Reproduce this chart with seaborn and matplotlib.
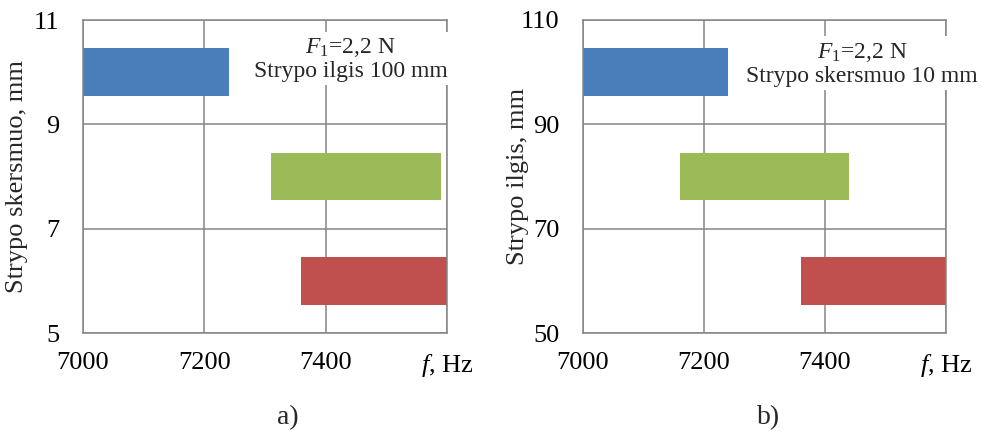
import numpy as np
import pandas as pd
import matplotlib
matplotlib.use('Agg')
import matplotlib.pyplot as plt
import seaborn as sns

# ---- data ----
# Panel a): bar diameter (mm) vs frequency range (Hz)
a_diam = [6, 8, 10]
a_start = [7360, 7310, 7000]
a_end = [7600, 7590, 7240]
# Panel b): bar length (mm) vs frequency range (Hz)
b_len = [60, 80, 100]
b_start = [7360, 7160, 7000]
b_end = [7600, 7440, 7240]

bar_colors = ['#C0504D', '#9BBB59', '#4A7EBB']  # for y ascending
x_ticks = [7000, 7200, 7400, 7600]
x_ticklabels = ['7000', '7200', '7400', r'$f$, Hz']
a_yticks = [5, 7, 9, 11]
b_yticks = [50, 70, 90, 110]
a_ylabel = 'Strypo skersmuo, mm'
b_ylabel = 'Strypo ilgis, mm'
a_note = '$F_{\\mathit{1}}$=2,2 N\nStrypo ilgis 100 mm'
b_note = '$F_{\\mathit{1}}$=2,2 N\nStrypo skersmuo 10 mm'

sns.set_theme(style='white')
plt.rcParams['font.family'] = ['Liberation Serif', 'DejaVu Serif']
plt.rcParams['mathtext.fontset'] = 'custom'
plt.rcParams['mathtext.rm'] = 'Liberation Serif'
plt.rcParams['mathtext.it'] = 'Liberation Serif:italic'

GRID = '#858585'

fig = plt.figure(figsize=(9.86, 4.33), dpi=100)
ax1 = fig.add_axes([83/986, 100/433, 364/986, 313/433])
ax2 = fig.add_axes([583/986, 100/433, 363/986, 313/433])


def panel(ax, ys, starts, ends, yticks, ylabel, note, note_xy):
    df = pd.DataFrame({'y': ys, 'start': starts,
                       'dur': np.array(ends) - np.array(starts)})
    df = df.sort_values('y').reset_index(drop=True)
    sns.barplot(data=df, x='dur', y='y', orient='y', native_scale=True,
                width=0.46, errorbar=None, left=df['start'].to_numpy(),
                color=bar_colors[0], saturation=1, linewidth=0, ax=ax)
    for p, c in zip(ax.patches, bar_colors):
        p.set_facecolor(c)
        p.set_edgecolor(c)
    ax.set_xlim(x_ticks[0], x_ticks[-1])
    ax.set_ylim(yticks[0], yticks[-1])
    ax.set_xticks(x_ticks, x_ticklabels)
    ax.set_yticks(yticks)
    ax.grid(True, color=GRID, lw=1.1)
    ax.set_axisbelow(True)
    for s in ax.spines.values():
        s.set_visible(True)
        s.set_color(GRID)
        s.set_linewidth(1.1)
    ax.tick_params(axis='both', length=0, labelsize=19, colors='black')
    ax.tick_params(axis='y', pad=17)
    ax.tick_params(axis='x', pad=14)
    ax.set_xlabel('')
    ax.set_ylabel(ylabel, fontsize=19)
    ax.yaxis.set_label_coords(-0.15, 0.5)
    ax.text(note_xy[0], note_xy[1], note, ha='center', va='center',
            fontsize=17, linespacing=1.1, clip_on=False, zorder=5,
            bbox=dict(boxstyle='square,pad=0.15', fc='white', ec='none'))


panel(ax1, a_diam, a_start, a_end, a_yticks, a_ylabel, a_note, (7441, 10.25))
panel(ax2, b_len, b_start, b_end, b_yticks, b_ylabel, b_note, (7461, 101.6))

fig.text(288/986, 1 - 418/433, 'a)', ha='center', va='center', fontsize=20)
fig.text(769/986, 1 - 418/433, 'b)', ha='center', va='center', fontsize=20)

fig.savefig('out.png', dpi=100)
